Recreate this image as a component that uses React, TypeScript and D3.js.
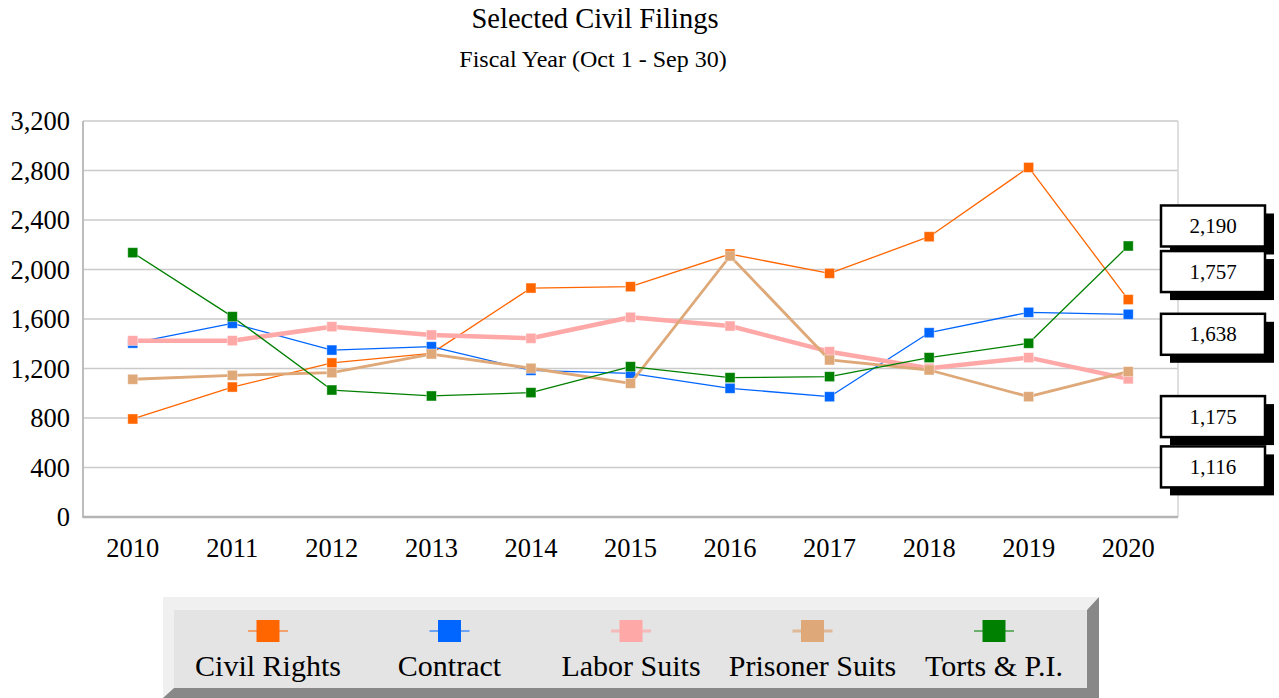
import React from 'react';
import * as d3 from 'd3';

// chart data
const years = ['2010', '2011', '2012', '2013', '2014', '2015', '2016', '2017', '2018', '2019', '2020'];
const civilRights = [792, 1050, 1245, 1322, 1850, 1861, 2125, 1969, 2265, 2825, 1757];
const contract = [1405, 1565, 1349, 1376, 1185, 1161, 1040, 972, 1489, 1654, 1638];
const laborSuits = [1425, 1425, 1538, 1471, 1444, 1614, 1543, 1336, 1202, 1288, 1116];
const prisonerSuits = [1113, 1145, 1166, 1317, 1202, 1080, 2109, 1269, 1188, 972, 1175];
const tortsPI = [2136, 1619, 1026, 978, 1005, 1215, 1126, 1134, 1288, 1404, 2190];
const yTicks = [0, 400, 800, 1200, 1600, 2000, 2400, 2800, 3200];
const seriesNames = ['Civil Rights', 'Contract', 'Labor Suits', 'Prisoner Suits', 'Torts & P.I.'];

// styles
const series = [
  { name: seriesNames[0], values: civilRights, color: '#FF6600', width: 1.3 },
  { name: seriesNames[1], values: contract, color: '#0066FF', width: 1.3 },
  { name: seriesNames[2], values: laborSuits, color: '#FFA8A8', width: 4.5 },
  { name: seriesNames[3], values: prisonerSuits, color: '#DEA878', width: 2.8 },
  { name: seriesNames[4], values: tortsPI, color: '#008000', width: 1.3 },
];

// callouts for the last year, top to bottom, with a nudge so they don't collide
const callouts = [
  { idx: 4, dy: -20 },
  { idx: 0, dy: -28 },
  { idx: 1, dy: 20 },
  { idx: 3, dy: 45 },
  { idx: 2, dy: 88 },
];

const W = 1279;
const H = 698;
const font = "'Liberation Serif', 'Times New Roman', serif";
const plot = { left: 83, right: 1178, top: 121, bottom: 517 };

export default function App() {
  const x = d3.scaleBand().domain(years).range([plot.left, plot.right]);
  const cx = (d: string) => (x(d) as number) + x.bandwidth() / 2;
  const y = d3.scaleLinear().domain([0, 3200]).range([plot.bottom, plot.top]);
  const fmt = d3.format(',');

  const line = d3.line<number>()
    .x((d, i) => cx(years[i]))
    .y((d) => y(d));

  const legendX = d3.scalePoint().domain(seriesNames).range([268, 994]);

  // legend box with bevel
  const lb = { x0: 163, y0: 597, x1: 1099, y1: 698 };
  const li = { x0: 174, y0: 610, x1: 1087, y1: 688 };

  return (
    <svg width={W} height={H} style={{ position: 'absolute', left: 0, top: 0, background: '#fff' }} fontFamily={font}>
      <text x={595} y={28} textAnchor="middle" fontSize={28.5} fill="#000">Selected Civil Filings</text>
      <text x={593} y={67} textAnchor="middle" fontSize={24} fill="#000">Fiscal Year (Oct 1 - Sep 30)</text>

      {/* grid */}
      {yTicks.map((t) => (
        <g key={t}>
          {t > 0 && (
            <line x1={plot.left} x2={plot.right} y1={y(t)} y2={y(t)} stroke="#CACACA" strokeWidth={1.5} />
          )}
          <text x={70} y={y(t) + 9} textAnchor="end" fontSize={26.5} fill="#000">{fmt(t)}</text>
        </g>
      ))}
      <line x1={plot.right} x2={plot.right} y1={plot.top} y2={plot.bottom} stroke="#D4D4D4" strokeWidth={1.5} />
      <line x1={plot.left} x2={plot.left} y1={plot.top} y2={plot.bottom + 1} stroke="#BDBDBD" strokeWidth={2} />
      <line x1={plot.left} x2={plot.right} y1={plot.bottom} y2={plot.bottom} stroke="#B4B4B4" strokeWidth={2.5} />

      {years.map((yr) => (
        <text key={yr} x={cx(yr)} y={557} textAnchor="middle" fontSize={26.5} fill="#000">{yr}</text>
      ))}

      {/* series */}
      {series.map((s) => (
        <g key={s.name}>
          <path d={line(s.values) || ''} fill="none" stroke={s.color} strokeWidth={s.width} strokeLinejoin="round" />
          {s.values.map((v, i) => (
            <rect key={i} x={cx(years[i]) - 5} y={y(v) - 5} width={10} height={10}
              fill={s.color} stroke="#fff" strokeOpacity={0.5} strokeWidth={0.8} />
          ))}
        </g>
      ))}

      {/* callouts */}
      {callouts.map((c) => {
        const s = series[c.idx];
        const v = s.values[s.values.length - 1];
        const yc = y(v) + c.dy;
        const bx = 1161;
        const bw = 104;
        const bh = 41;
        return (
          <g key={s.name}>
            <rect x={bx + 9} y={yc - bh / 2 + 8} width={bw} height={bh} fill="#000" />
            <rect x={bx} y={yc - bh / 2} width={bw} height={bh} fill="#fff" stroke="#000" strokeWidth={2.5} />
            <text x={bx + bw / 2} y={yc + 7} textAnchor="middle" fontSize={21} fill="#000">{fmt(v)}</text>
          </g>
        );
      })}

      {/* legend */}
      <rect x={lb.x0} y={lb.y0} width={lb.x1 - lb.x0} height={lb.y1 - lb.y0} fill="#F0F0F0" />
      <polygon
        points={`${lb.x1},${lb.y0} ${lb.x1},${lb.y1} ${lb.x0},${lb.y1} ${li.x0},${li.y1} ${li.x1},${li.y1} ${li.x1},${li.y0}`}
        fill="#888888" />
      <rect x={li.x0} y={li.y0} width={li.x1 - li.x0} height={li.y1 - li.y0} fill="#E4E4E4" />
      {series.map((s) => {
        const lx = legendX(s.name) as number;
        return (
          <g key={s.name}>
            <line x1={lx - 20} x2={lx + 20} y1={631} y2={631} stroke={s.color} strokeOpacity={0.7}
              strokeWidth={Math.min(s.width, 3)} />
            <rect x={lx - 11.5} y={620} width={23} height={22} fill={s.color} />
            <text x={lx} y={676} textAnchor="middle" fontSize={30} fill="#000">{s.name}</text>
          </g>
        );
      })}
    </svg>
  );
}
